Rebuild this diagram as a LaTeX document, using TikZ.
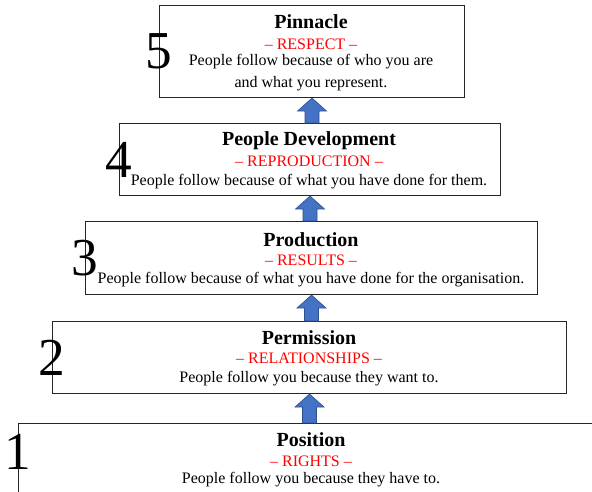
\documentclass[tikz,border=0pt]{standalone}
\usepackage{fontspec}
\setmainfont{Liberation Serif}
\usetikzlibrary{calc}
\definecolor{arrowblue}{HTML}{4472C4}
\definecolor{arrowedge}{HTML}{2F528F}
\definecolor{tagred}{HTML}{FF0000}
\tikzset{
  level/.style={draw=black!85, line width=0.8pt, fill=white, inner sep=0pt,
    anchor=north west, align=center},
  num/.style={font=\fontsize{40}{40}\selectfont, inner sep=0pt},
  ttl/.style={font=\fontsize{15}{17}\selectfont\bfseries, inner sep=0pt},
  tag/.style={font=\fontsize{12}{15}\selectfont, text=tagred, inner sep=0pt},
  body/.style={font=\fontsize{12}{16.5}\selectfont, inner sep=0pt, align=center},
  uparrow/.style={fill=arrowblue, draw=arrowedge, line width=0.5pt, line join=miter}
}
% block arrow pointing up from the top of #2 to the bottom of #1
\newcommand\liftarrow[2]{%
  \path let \p1=(#1.south), \p2=(#2.north) in
    [uparrow] (\x1-5.25pt,\y2) -- (\x1-5.25pt,\y1-9.75pt) -- (\x1-10.9pt,\y1-9.75pt)
    -- (\x1,\y1) -- (\x1+10.9pt,\y1-9.75pt) -- (\x1+5.25pt,\y1-9.75pt)
    -- (\x1+5.25pt,\y2) -- cycle;}
\begin{document}
\begin{tikzpicture}[x=0.75pt,y=-0.75pt]
\useasboundingbox (0,0) rectangle (592,492);
\begin{scope}
\clip (0,0) rectangle (592,492);
% boxes of the five levels
\node[level, minimum width=305*0.75pt, minimum height=92*0.75pt] (b5) at (159,5) {};
\node[level, minimum width=381*0.75pt, minimum height=72*0.75pt] (b4) at (119,123) {};
\node[level, minimum width=452*0.75pt, minimum height=73*0.75pt] (b3) at (85,221) {};
\node[level, minimum width=514*0.75pt, minimum height=72*0.75pt] (b2) at (52,321) {};
\node[level, minimum width=600*0.75pt, minimum height=90*0.75pt] (b1) at (18,423) {};
\end{scope}

% level 5
\node[ttl] (t5) at (311,22) {Pinnacle};
\node[tag] (r5) at (311,44) {– RESPECT –};
\node[body] (d5) at (311,73) {People follow because of who you are\\and what you represent.};
\node[num] (n5) at (b5.west) {5};
% level 4
\node[ttl] (t4) at (309,141) {People Development};
\node[tag] (r4) at (309,161) {– REPRODUCTION –};
\node[body] (d4) at (309,182) {People follow because of what you have done for them.};
\node[num] (n4) at (b4.west) {4};
% level 3
\node[ttl] (t3) at (311,240) {Production};
\node[tag] (r3) at (311,260) {– RESULTS –};
\node[body] (d3) at (311,280) {People follow because of what you have done for the organisation.};
\node[num] (n3) at (b3.west) {3};
% level 2
\node[ttl] (t2) at (309,338) {Permission};
\node[tag] (r2) at (309,358) {– RELATIONSHIPS –};
\node[body] (d2) at (309,379) {People follow you because they want to.};
\node[num] (n2) at (b2.west) {2};
% level 1
\node[ttl] (t1) at (311,440) {Position};
\node[tag] (r1) at (311,461) {– RIGHTS –};
\node[body] (d1) at (311,480) {People follow you because they have to.};
\node[num] (n1) at (18,452) {1};

% arrows between levels
\liftarrow{b5}{b4}
\liftarrow{b4}{b3}
\liftarrow{b3}{b2}
\liftarrow{b2}{b1}
\end{tikzpicture}
\end{document}
